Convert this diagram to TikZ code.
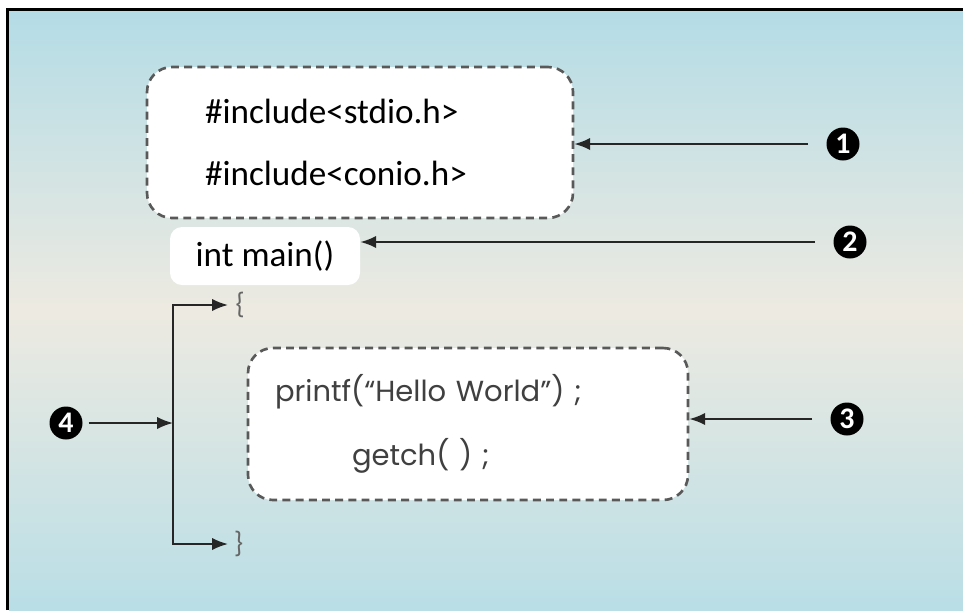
\documentclass[tikz,border=0pt]{standalone}
\usepackage{fontspec}
\setmainfont{Carlito}
\newfontfamily\roundfont{Poppins}
\usetikzlibrary{arrows.meta}

\begin{document}
\begin{tikzpicture}[
    >={Latex[length=9pt,width=7pt]},
    codebox/.style={draw=black!65, dash pattern=on 4.5pt off 3pt,
	line width=1.5pt, fill=white, rounded corners=0.5cm, align=left},
    numdot/.style={circle, fill=black, text=white, minimum size=0.66cm,
	inner sep=0pt, outer sep=0.37cm,
	font=\bfseries\fontsize{17}{17}\selectfont},
    pointer/.style={->, line width=1.1pt, black!85},
    brace/.style={text=black!60, font=\roundfont\fontsize{13}{13}\selectfont}]
    \useasboundingbox (0, 0) rectangle (19.26, -12.2);
    \path [top color={rgb,255:red,180;green,220;blue,230},
	bottom color={rgb,255:red,185;green,222;blue,230},
	middle color={rgb,255:red,237;green,234;blue,225}]
	(0.18, -0.22) rectangle (19.26, -12.2);
    \draw [line width=1.7pt] (0.15, -12.2) -- (0.15, -0.19) -- (19.26, -0.19);

    \path (7.2, -2.85) node [codebox, text width=6.2cm, inner xsep=1.16cm,
	minimum height=3.02cm, font=\fontsize{20}{35.7}\selectfont] (inc)
	{\#include<stdio.h>\\\#include<conio.h>};
    \path (5.3, -5.12) node [fill=white, rounded corners=0.24cm,
	minimum width=3.8cm, minimum height=1.16cm,
	font=\fontsize{20}{24}\selectfont] (mn) {int main()};
    \path (9.36, -8.48) node [codebox, text width=7.72cm, inner xsep=0.54cm,
	minimum height=3.04cm, text=black!75,
	font=\roundfont\fontsize{16.5}{36.3}\selectfont] (body)
	{printf(“Hello World”) ;\\\hspace*{1.54cm}getch( ) ;};

    \path (4.56, -6.1) node [brace, anchor=west] (lbr) {\{};
    \path (4.56, -10.88) node [brace, anchor=west] (rbr) {\}};
    \coordinate (bk) at (3.46, -8.46);
    \draw [pointer, <->] (lbr.west) -- (lbr.west -| bk) -- (rbr.west -| bk)
	-- (rbr.west);

    \path (16.86, -2.88) node [numdot] (n1) {1};
    \path (17.0, -4.84) node [numdot] (n2) {2};
    \path (16.94, -8.38) node [numdot] (n3) {3};
    \path (1.32, -8.46) node [numdot, outer sep=0.12cm] (n4) {4};
    \draw [pointer] (n1) -- (n1 -| inc.east);
    \draw [pointer] (n2) -- (n2 -| mn.east);
    \draw [pointer] (n3) -- (n3 -| body.east);
    \draw [pointer] (n4) -- (n4 -| bk);
\end{tikzpicture}
\end{document}
